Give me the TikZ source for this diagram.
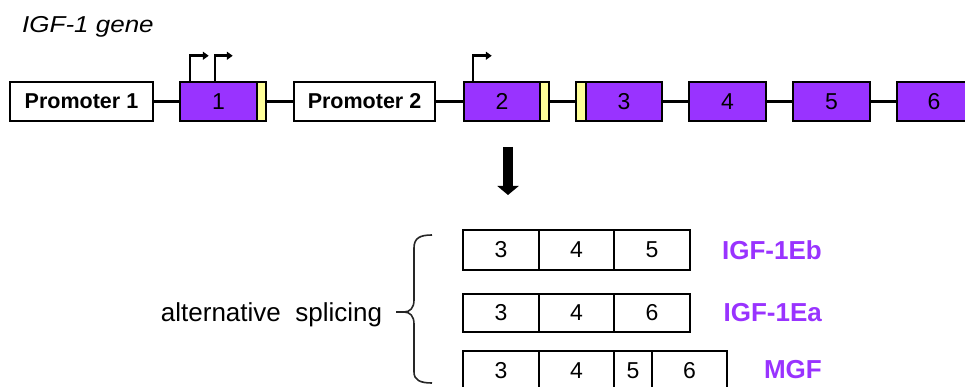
\documentclass[tikz,border=0pt]{standalone}
\usepackage{fontspec}
\setmainfont{Liberation Sans}
\usetikzlibrary{arrows.meta}
\definecolor{exonc}{HTML}{9933FF}
\definecolor{utrc}{HTML}{FFFF99}
\definecolor{isoc}{HTML}{9933FF}
\begin{document}
\begin{tikzpicture}[x=1pt,y=-1pt,
  boxbase/.style={draw=black,line width=2.5pt,inner sep=0pt,minimum height=39pt,anchor=center},
  prom/.style={boxbase,fill=white,font=\fontsize{21.5}{25}\selectfont\bfseries},
  exon/.style={boxbase,fill=exonc,font=\fontsize{23}{26}\selectfont},
  utr/.style={boxbase,fill=utrc,minimum width=9pt},
  link/.style={line width=2.5pt},
  tss/.style={line width=2.5pt,-{Triangle[length=6pt,width=8pt]}},
  cell/.style={draw=black,line width=2.5pt,inner sep=0pt,anchor=center,font=\fontsize{23}{26}\selectfont},
  iso/.style={anchor=east,inner sep=0pt,text=isoc,font=\fontsize{26}{30}\selectfont\bfseries},
  bracec/.style={line width=1.6pt,draw=black!85}
]
\useasboundingbox (0,0) rectangle (965,387);
\clip (0,0) rectangle (965,387);

% title
\node[anchor=base west,inner sep=0pt,font=\fontsize{23}{27}\selectfont\itshape,xscale=1.13] (title) at (22,33) {IGF-1 gene};

% gene row
\node[prom,minimum width=143pt] (p1) at (81.5,101.5) {Promoter 1};
\node[exon,minimum width=77pt] (e1) at (218.5,101.5) {1};
\node[utr] (u1) at (261.5,101.5) {};
\node[prom,minimum width=141pt] (p2) at (364.5,101.5) {Promoter 2};
\node[exon,minimum width=76pt] (e2) at (502,101.5) {2};
\node[utr] (u2) at (544.5,101.5) {};
\node[utr,minimum width=10pt] (u3) at (581,101.5) {};
\node[exon,minimum width=76pt] (e3) at (624,101.5) {3};
\node[exon,minimum width=77pt] (e4) at (727.5,101.5) {4};
\node[exon,minimum width=77pt] (e5) at (831.5,101.5) {5};
\node[exon,minimum width=74pt] (e6) at (934,101.5) {6};

\draw[link] (p1.east) -- (e1.west);
\draw[link] (u1.east) -- (p2.west);
\draw[link] (p2.east) -- (e2.west);
\draw[link] (u2.east) -- (u3.west);
\draw[link] (e3.east) -- (e4.west);
\draw[link] (e4.east) -- (e5.west);
\draw[link] (e5.east) -- (e6.west);

% transcription start sites
\draw[tss] ([xshift=11pt]e1.north west) |- ++(19,-25);
\draw[tss] ([xshift=36pt]e1.north west) |- ++(18,-25);
\draw[tss] ([xshift=10pt]e2.north west) |- ++(19,-25);

% big arrow
\coordinate (a1) at (508,147);
\coordinate (a2) at (508,195);
\draw[line width=10pt,-{Triangle[length=9pt,width=21pt]}] (a1) -- (a2);

% isoforms
\node[cell,minimum width=76pt,minimum height=40pt] (b3) at (501,250) {3};
\node[cell,minimum width=75pt,minimum height=40pt] (b4) at (576.5,250) {4};
\node[cell,minimum width=76pt,minimum height=40pt] (b5) at (652,250) {5};
\node[iso] (lb) at (822,250) {IGF-1Eb};

\node[cell,minimum width=76pt,minimum height=38pt] (a3) at (501,313) {3};
\node[cell,minimum width=75pt,minimum height=38pt] (a4) at (576.5,313) {4};
\node[cell,minimum width=76pt,minimum height=38pt] (a6) at (652,313) {6};
\node[iso] (la) at (822,313) {IGF-1Ea};

\node[cell,minimum width=76pt,minimum height=39pt] (m3) at (501,370.5) {3};
\node[cell,minimum width=75pt,minimum height=39pt] (m4) at (576.5,370.5) {4};
\node[cell,minimum width=38pt,minimum height=39pt] (m5) at (633,370.5) {5};
\node[cell,minimum width=75pt,minimum height=39pt] (m6) at (689.5,370.5) {6};
\node[iso] (lm) at (822,370) {MGF};

% brace and label
\draw[bracec] (432,235) .. controls (420,235) and (414,238) .. (414,248) -- (414,300)
  .. controls (414,308) and (410,312) .. (404,312) -- (396,312);
\draw[bracec] (404,312) .. controls (410,312) and (414,316) .. (414,324) -- (414,372)
  .. controls (414,380) and (420,383) .. (432,383);
\node[inner sep=0pt,font=\fontsize{26}{30}\selectfont] (alt) at (271.5,315) {alternative\ \ splicing};
\end{tikzpicture}
\end{document}
